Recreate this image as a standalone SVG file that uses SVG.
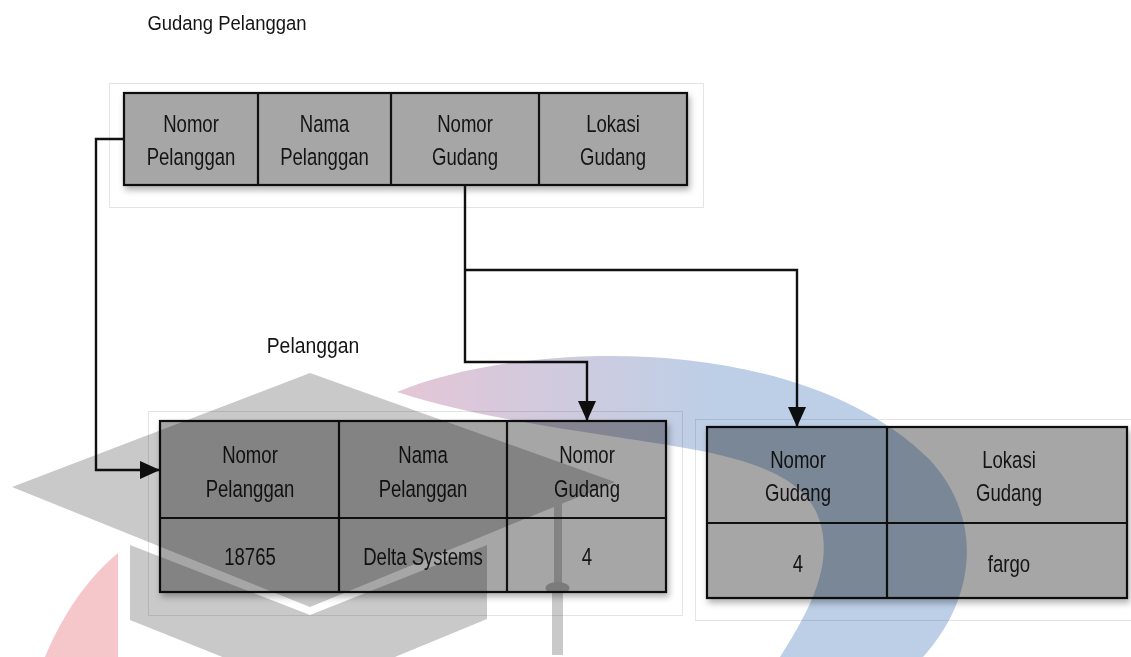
<svg xmlns="http://www.w3.org/2000/svg" width="1131" height="657" viewBox="0 0 1131 657">
<defs>
<style>
.frame{fill:none;stroke:#e4e4e4;stroke-width:1}
.cell{fill:#a6a6a6;stroke:#111;stroke-width:2.2}
.div{stroke:#111;stroke-width:2.2}
.t{font-family:"Liberation Sans",Arial,sans-serif;font-size:23.5px;fill:#141414;text-anchor:middle;transform-box:fill-box;transform-origin:center;transform:scaleX(0.79)}
.lbl{font-family:"Liberation Sans",Arial,sans-serif;font-size:22px;fill:#141414;text-anchor:middle;transform-box:fill-box;transform-origin:center;transform:scaleX(0.88)}
.wire{fill:none;stroke:#111;stroke-width:2.4}
.wm{mix-blend-mode:multiply}
.cap{fill:#c9c9c9}
</style>
<filter id="sh" x="-5%" y="-10%" width="110%" height="130%">
<feDropShadow dx="2" dy="4" stdDeviation="3" flood-color="#000" flood-opacity="0.3"/>
</filter>
<marker id="ah" viewBox="0 0 20 18" refX="20" refY="9" markerWidth="20" markerHeight="18" markerUnits="userSpaceOnUse" orient="auto">
<path d="M0,0 L20,9 L0,18 Z" fill="#111"/>
</marker>
<linearGradient id="arcg" gradientUnits="userSpaceOnUse" x1="400" y1="0" x2="720" y2="0">
<stop offset="0" stop-color="#e4c6d6"/>
<stop offset="1" stop-color="#bccfe7"/>
</linearGradient>
</defs>
<rect width="1131" height="657" fill="#fff"/>

<g id="title-gudang-pelanggan"><text class="lbl" x="227" y="30" style="font-size:21px">Gudang Pelanggan</text></g>

<g id="tbl-gudang-pelanggan">
<rect class="frame" x="109.5" y="83.5" width="594" height="124"/>
<rect class="cell" x="124" y="93" width="563" height="92" filter="url(#sh)"/>
<line class="div" x1="258" y1="93" x2="258" y2="185"/>
<line class="div" x1="391" y1="93" x2="391" y2="185"/>
<line class="div" x1="539" y1="93" x2="539" y2="185"/>
<text class="t" x="191" y="132">Nomor</text><text class="t" x="191" y="165">Pelanggan</text>
<text class="t" x="324.5" y="132">Nama</text><text class="t" x="324.5" y="165">Pelanggan</text>
<text class="t" x="465" y="132">Nomor</text><text class="t" x="465" y="165">Gudang</text>
<text class="t" x="613" y="132">Lokasi</text><text class="t" x="613" y="165">Gudang</text>
</g>

<g id="title-pelanggan"><text class="lbl" x="313" y="353">Pelanggan</text></g>

<g id="tbl-pelanggan">
<rect class="frame" x="148.5" y="411.5" width="534" height="204"/>
<rect class="cell" x="160" y="421" width="506" height="171" filter="url(#sh)"/>
<line class="div" x1="160" y1="518" x2="666" y2="518"/>
<line class="div" x1="339" y1="421" x2="339" y2="592"/>
<line class="div" x1="507" y1="421" x2="507" y2="592"/>
<text class="t" x="250" y="463">Nomor</text><text class="t" x="250" y="497">Pelanggan</text>
<text class="t" x="423" y="463">Nama</text><text class="t" x="423" y="497">Pelanggan</text>
<text class="t" x="587" y="463">Nomor</text><text class="t" x="587" y="497">Gudang</text>
<text class="t" x="250" y="565">18765</text>
<text class="t" x="423" y="565">Delta Systems</text>
<text class="t" x="587" y="565">4</text>
</g>

<g id="tbl-gudang">
<rect class="frame" x="695.5" y="419.5" width="440" height="201"/>
<rect class="cell" x="707" y="427" width="420" height="171" filter="url(#sh)"/>
<line class="div" x1="707" y1="523" x2="1127" y2="523"/>
<line class="div" x1="887" y1="427" x2="887" y2="598"/>
<text class="t" x="798" y="468">Nomor</text><text class="t" x="798" y="501">Gudang</text>
<text class="t" x="1009" y="468">Lokasi</text><text class="t" x="1009" y="501">Gudang</text>
<text class="t" x="798" y="572">4</text>
<text class="t" x="1009" y="572">fargo</text>
</g>

<g id="connectors">
<path class="wire" d="M124,139 H96 V470 H160" marker-end="url(#ah)"/>
<path class="wire" d="M465,185 V362 H587 V421" marker-end="url(#ah)"/>
<path class="wire" d="M465,270 H797 V427" marker-end="url(#ah)"/>
</g>

<g id="watermark" class="wm">
<path fill="#f5c6ca" d="M118,553 L118,657 L45,657 C60,620 85,580 118,553 Z"/>
<path fill="url(#arcg)" d="M397,392 C520,340 800,330 930,460 C985,520 975,600 923,657 L780,657 C810,610 830,570 822,530 C815,495 790,470 707,452 C620,435 500,425 397,392 Z"/>
<polygon class="cap" points="12,487 310,373 615,482 310,607"/>
<polygon class="cap" points="130,545 310,615 487,545 487,619 310,692 130,620"/>
<rect class="cap" x="554" y="503" width="8" height="82"/>
<ellipse cx="557.5" cy="588" rx="12" ry="6" fill="#bdbdbd"/>
<rect class="cap" x="552" y="592" width="11" height="63"/>
</g>
</svg>
